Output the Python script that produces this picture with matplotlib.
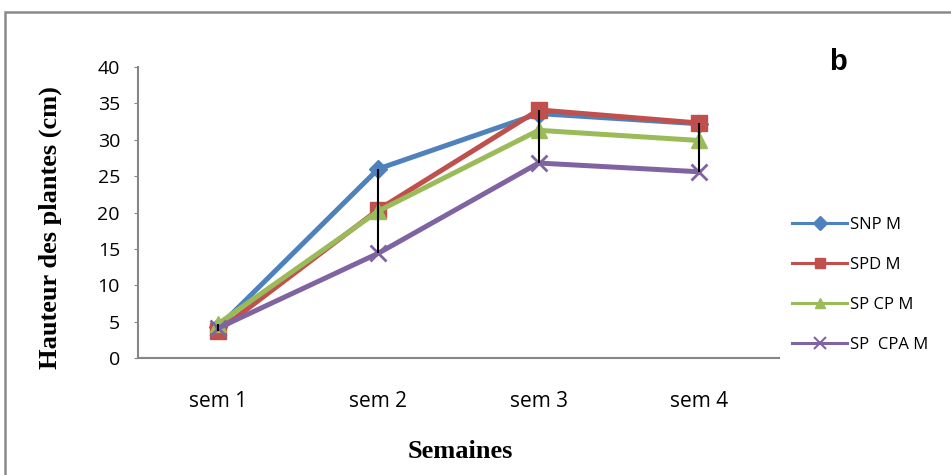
import matplotlib.pyplot as plt
from matplotlib.lines import Line2D
from matplotlib.patches import Rectangle
import numpy as np

weeks = ['sem 1', 'sem 2', 'sem 3', 'sem 4']
snp_m = [4.2, 26.0, 33.6, 32.2]
spd_m = [3.7, 20.4, 34.1, 32.3]
sp_cp_m = [4.7, 20.2, 31.3, 29.9]
sp_cpa_m = [4.1, 14.4, 26.8, 25.6]

series = [
    ('SNP M', snp_m, '#4F81BD', 'D', 9),
    ('SPD M', spd_m, '#C0504D', 's', 11),
    ('SP CP M', sp_cp_m, '#9BBB59', '^', 11),
    ('SP  CPA M', sp_cpa_m, '#8064A2', 'x', 12),
]

axis_grey = '#868686'

fig = plt.figure(figsize=(9.51, 4.75), dpi=100)
ax = fig.add_axes([138 / 951, 1 - 358 / 475, 641 / 951, 291 / 475])

x = np.arange(len(weeks))
handles = []
for name, vals, col, mk, ms in series:
    ax.plot(x, vals, color=col, lw=3.6, marker=mk, markersize=ms,
            markeredgewidth=2 if mk == 'x' else 1, markeredgecolor=col, zorder=3)
    handles.append(Line2D([0], [0], color=col, lw=2.2, marker=mk,
                          markersize=7 if mk != 'x' else 8, markeredgewidth=1.5 if mk == 'x' else 1,
                          markeredgecolor=col, label=name))

# high-low lines
allv = np.array([s[1] for s in series])
ax.vlines(x, allv.min(axis=0), allv.max(axis=0), color='black', lw=1.5, zorder=5)

ax.set_xlim(-0.5, 3.5)
ax.set_ylim(0, 40)
ax.set_yticks(range(0, 41, 5))
ax.set_xticks(x)
ax.set_xticklabels(weeks, fontsize=15, family='Open Sans')
ax.tick_params(axis='x', length=0, pad=24)
ax.tick_params(axis='y', length=3, color=axis_grey, labelsize=14, pad=10)
for lbl in ax.get_yticklabels():
    lbl.set_family('Open Sans')

for side in ['top', 'right']:
    ax.spines[side].set_visible(False)
for side in ['left', 'bottom']:
    ax.spines[side].set_color(axis_grey)
    ax.spines[side].set_linewidth(1.5)

fig.text(50 / 951, 1 - 228 / 475, 'Hauteur des plantes (cm)', rotation=90,
         ha='center', va='center', fontsize=19, fontweight='bold', family='Liberation Serif')
fig.text(460 / 951, 1 - 452 / 475, 'Semaines', ha='center', va='center',
         fontsize=19, fontweight='bold', family='Liberation Serif')
fig.text(838 / 951, 1 - 62 / 475, 'b', ha='center', va='center',
         fontsize=21, fontweight='bold', family='Liberation Sans')

fig.legend(handles=handles, loc='center left', bbox_to_anchor=(777 / 951, 1 - 285 / 475),
           frameon=False, prop={'family': 'Open Sans', 'size': 12},
           handlelength=3.3, labelspacing=1.45, handletextpad=0.15)

fig.patches.append(Rectangle((5 / 951, -0.05), 1.1, 1 - 12 / 475 + 0.05,
                             transform=fig.transFigure, fill=False,
                             edgecolor='#8a8a8a', lw=1.8, figure=fig))

fig.savefig('out.png', dpi=100)
